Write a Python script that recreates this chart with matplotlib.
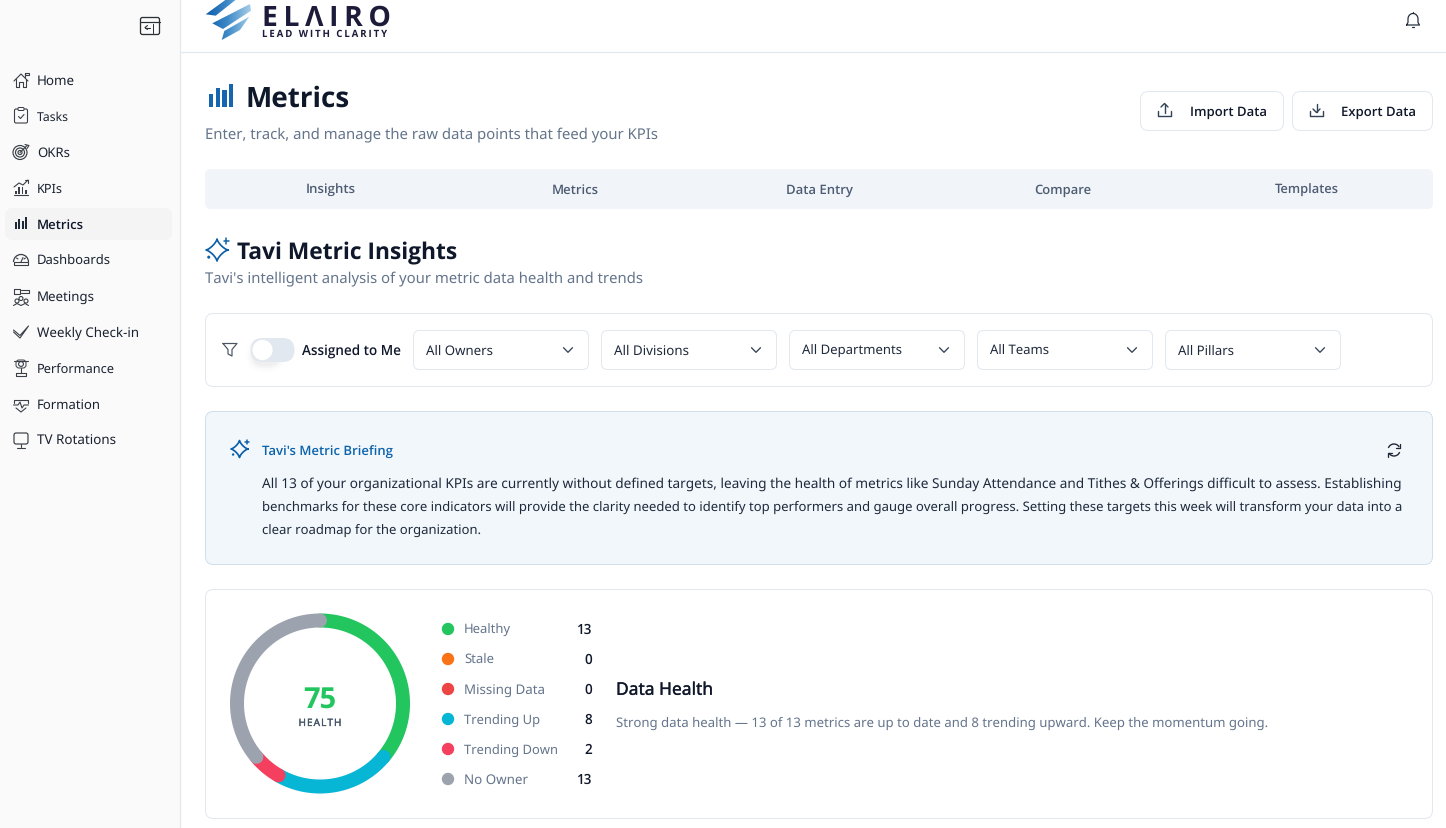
import numpy as np
import matplotlib
matplotlib.use("Agg")
import matplotlib.pyplot as plt
import matplotlib.patheffects as pe
from matplotlib.colors import LinearSegmentedColormap
from matplotlib.patches import FancyBboxPatch, Polygon, Circle, Rectangle, Arc
from matplotlib.lines import Line2D

plt.rcParams['font.family'] = ['Noto Sans', 'DejaVu Sans']
plt.rcParams['text.hinting'] = 'no_hinting'

# ---------- data ----------
legend_labels = ["Healthy", "Stale", "Missing Data", "Trending Up", "Trending Down", "No Owner"]
legend_counts = [13, 0, 0, 8, 2, 13]
legend_colors = ["#22c55e", "#f97316", "#ef4444", "#06b6d4", "#f43f5e", "#9ca3af"]
health_score = 75

nav_items = ["Home", "Tasks", "OKRs", "KPIs", "Metrics", "Dashboards", "Meetings",
             "Weekly Check-in", "Performance", "Formation", "TV Rotations"]
tabs = ["Insights", "Metrics", "Data Entry", "Compare", "Templates"]
filters = ["All Owners", "All Divisions", "All Departments", "All Teams", "All Pillars"]
briefing = [
    "All 13 of your organizational KPIs are currently without defined targets, leaving the health of metrics like Sunday Attendance and Tithes & Offerings difficult to assess. Establishing",
    "benchmarks for these core indicators will provide the clarity needed to identify top performers and gauge overall progress. Setting these targets this week will transform your data into a",
    "clear roadmap for the organization.",
]

# ---------- layout (text widths in pixels) ----------
nav_w = [38, 32, 33, 26, 47, 74, 58, 102, 78, 64, 79]
tab_w = [50, 47, 67, 57, 64]
filter_w = [67, 75, 100, 59, 56]
legend_w = [47, 30, 81, 76, 94, 64]
brief_w = [1139, 1139, 219]

DARK = "#0f172a"
MUTED = "#64748b"
BORDER = "#e2e8f0"
BLUE = "#0b5fa8"
ICON = "#3a3f47"

W, H = 1446, 829
fig = plt.figure(figsize=(W / 100, H / 100), dpi=100, facecolor="white")
ax = fig.add_axes([0, 0, 1, 1])
ax.set_xlim(0, W)
ax.set_ylim(H - 2, -2)
ax.axis("off")
rend = fig.canvas.get_renderer()
REG = ['Noto Sans', 'DejaVu Sans']
OPEN = ['Open Sans', 'DejaVu Sans']


def T(x, y, s, px=14, weight="normal", color=DARK, ha="left", fit=None):
    fam = REG if weight in ("normal", "medium") else OPEN
    t = ax.text(x, y - 1.6, s, fontsize=px * 0.72, family=fam,
                fontweight="normal" if weight == "medium" else weight,
                color=color, ha=ha, va="baseline", zorder=6)
    if weight == "medium":
        t.set_path_effects([pe.withStroke(linewidth=0.2, foreground=color)])
    if fit:
        for _ in range(3):
            wid = t.get_window_extent(rend).width
            t.set_fontsize(t.get_fontsize() * fit / wid)
    return t


def box(x, y, w, h, r=8, fc="white", ec=BORDER, lw=1.0, z=1):
    p = FancyBboxPatch((x, y), w, h, boxstyle=f"round,pad=0,rounding_size={r}",
                       fc=fc, ec=ec, lw=lw * 0.72 if ec != "none" else 0, zorder=z)
    ax.add_patch(p)
    return p


def L(xs, ys, color=ICON, lw=1.1, z=5):
    ax.add_line(Line2D(xs, ys, color=color, lw=lw * 0.72, zorder=z,
                       solid_capstyle="round", solid_joinstyle="round"))


def chevron(cx, cy):
    L([cx - 4.5, cx, cx + 4.5], [cy - 2.3, cy + 2.3, cy - 2.3], color="#334155", lw=1.3)


def sparkle(cx, cy, s, color):
    a = np.linspace(0, 2 * np.pi, 200)
    xs = cx + s * np.sign(np.cos(a)) * np.abs(np.cos(a)) ** 2.7
    ys = cy - s * np.sign(np.sin(a)) * np.abs(np.sin(a)) ** 2.7
    L(xs, ys, color=color, lw=1.7)
    L([cx + s * 0.85, cx + s * 0.85], [cy - s * 1.05, cy - s * 0.55], color=color, lw=1.5)
    L([cx + s * 0.6, cx + s * 1.1], [cy - s * 0.8, cy - s * 0.8], color=color, lw=1.5)
    ax.add_patch(Circle((cx - s * 0.75, cy + s * 0.65), s * 0.14, fc=color, ec="none", zorder=5))


def bars(x, base, heights, w, gap, color):
    for i, h_ in enumerate(heights):
        ax.add_patch(Rectangle((x + i * (w + gap), base - h_), w, h_, fc=color, ec="none", zorder=5))


# ---------- sidebar ----------
ax.add_patch(Rectangle((0, -2), 180, H + 2, fc="#fafafa", ec="none", zorder=0))
L([180, 180], [-2, H], color=BORDER, lw=1.2, z=1)
box(5, 207, 167, 32, r=8, fc="#f4f4f5", ec="none")
# collapse button
box(140.5, 16.5, 19, 17, r=2, fc="none", ec="#2b2f36", lw=1.3, z=5)
L([140.5, 159.5], [21, 21], color="#2b2f36", lw=1.2)
L([153, 153], [23, 32], color="#2b2f36", lw=1.0)
L([145, 150], [26.5, 26.5], color="#2b2f36", lw=1.1)
L([147.5, 145, 147.5], [24.5, 26.5, 28.5], color="#2b2f36", lw=1.1)

for i, (name, wd) in enumerate(zip(nav_items, nav_w)):
    cy = 79 + 36 * i
    sel = name == "Metrics"
    T(37, cy + 5.3, name, 14, "semibold" if sel else "normal", DARK if sel else "#1a2230", fit=wd)

# nav icons
L([14, 21, 28], [80, 73, 80]); L([16, 16, 19, 19, 23, 23, 26, 26], [78, 86, 86, 81, 81, 86, 86, 78])
L([25, 25], [76, 71.5]); ax.add_patch(Rectangle((25, 71.5), 3.5, 2.5, fc="none", ec=ICON, lw=0.8, zorder=5))
box(14.5, 108, 13, 14, r=1.5, fc="none", ec=ICON, lw=1.1, z=5)
box(18, 106.5, 6, 3, r=1, fc="#fafafa", ec=ICON, lw=1.0, z=6)
L([18.5, 20.5, 24], [115.5, 117.5, 113.5])
for r_ in (7, 4.5, 2):
    ax.add_patch(Circle((20, 151.5), r_, fc="none", ec=ICON, lw=0.85, zorder=5))
L([20, 27], [151.5, 144.5]); L([25, 29, 27], [143.5, 144.5, 147.5])
bars(15, 193, [3, 7, 7, 4], 1.5, 1.9, ICON)
L([14, 28], [193.5, 193.5])
L([14, 19, 23, 28], [186, 182, 184, 179]); L([25, 28, 28], [179, 179, 182])
bars(15, 228, [7, 10, 8, 12], 2, 1.3, "#1f2937")
ax.add_patch(Arc((21, 261), 15, 15, theta1=180, theta2=360, ec=ICON, lw=0.9, zorder=5))
L([14, 28, 28, 14, 14], [261, 261, 264, 264, 261])
L([21, 23], [261, 256.5]); L([16.5, 18], [257, 258]); L([25.5, 24], [257, 258])
L([14, 14, 20, 20, 14], [293, 288, 288, 293, 293])
L([21, 29, 29, 21], [289, 289, 292, 292])
for cx_, cy_ in ((17, 300), (21, 297.5), (26, 300)):
    ax.add_patch(Circle((cx_, cy_), 2, fc="none", ec=ICON, lw=0.8, zorder=5))
L([13.5, 17, 21, 25, 28.5], [304.5, 302.5, 304.5, 302.5, 304.5])
L([13.5, 20, 28.5, 20, 13.5], [331, 337, 325, 334.5, 329], lw=1.1)
box(16, 359, 10, 8, r=3, fc="none", ec=ICON, lw=1.0, z=5)
ax.add_patch(Circle((21, 363), 2.4, fc="none", ec=ICON, lw=0.8, zorder=5))
L([14, 28], [360, 360]); L([21, 21], [367, 372]); L([16, 26, 26, 16, 16], [372, 372, 375, 375, 372])
L([14, 14, 28, 28], [402, 399, 399, 402]); L([13.5, 18, 20, 22, 24, 28.5], [404, 404, 401, 407, 404, 404])
L([16, 21, 26], [407, 411, 407])
box(14, 432, 14, 11, r=2, fc="none", ec=ICON, lw=1.2, z=5)
L([21, 21], [443, 446]); L([17, 25], [446.5, 446.5])

# ---------- header ----------
L([180.5, W], [51, 51], color=BORDER, lw=1.2, z=1)
logo_polys = [
    [(205.7, 13.3), (226.7, -2), (236.7, -2), (215.7, 14.7)],
    [(212.3, 22.3), (250, 3), (251, 9.7), (223, 28)],
    [(221.7, 39), (224.3, 30), (249.3, 15.7), (240, 29)],
]
grad = np.linspace(0, 1, 64).reshape(1, -1)
cmap = LinearSegmentedColormap.from_list("logo", ["#0a5aa8", "#3f8bc8", "#a6cde8"])
for pts in logo_polys:
    pg = Polygon(pts, closed=True, fc="none", ec="none", transform=ax.transData)
    ax.add_patch(pg)
    im = ax.imshow(grad, extent=(205, 251, 41, -2), cmap=cmap, aspect="auto", zorder=4)
    im.set_clip_path(pg)
ax.set_xlim(0, W)
ax.set_ylim(H - 2, -2)
T(262, 25.5, "\u200a\u200a".join("ELΛIRO"), 30, "bold", "#1c1b3a", fit=129)
T(262, 37, "\u2009".join("LEAD WITH CLARITY"), 8.5, "bold", "#1c1b3a", fit=125)

a = np.linspace(np.pi, 0, 40)
bx = list(1413 + 5 * np.cos(a)); by = list(18 - 5.5 * np.sin(a))
L([1406.5, 1408] + bx + [1418, 1419.5, 1406.5], [24, 21.5] + by + [21.5, 24, 24], color="#1f2937", lw=1.2)
L([1411.7, 1414.3], [26.3, 26.3], color="#1f2937", lw=1.2)
L([1413, 1413], [11.3, 12.3], color="#1f2937", lw=1.2)

# ---------- page title ----------
bars(209, 106, [13, 19, 17, 23], 4.3, 2.3, "#1565b0")
T(246, 106.3, "Metrics", 30, "bold", DARK, fit=104)
T(205, 138, "Enter, track, and manage the raw data points that feed your KPIs", 15, "normal", MUTED, fit=453)

for x_, w_, lab, tx, kind, tw in ((1140.5, 143, "Import Data", 1189.5, "up", 77),
                                   (1292.5, 140, "Export Data", 1341, "down", 75)):
    box(x_, 90.5, w_, 39, r=8, ec=BORDER)
    T(tx, 115.3, lab, 14, "semibold", DARK, fit=tw)
    ix = x_ + 24
    L([ix - 6.5, ix - 6.5, ix + 6.5, ix + 6.5], [110, 115, 115, 110], color="#334155", lw=1.4)
    if kind == "up":
        L([ix, ix], [103, 111.5], color="#334155", lw=1.4)
        L([ix - 3.5, ix, ix + 3.5], [106, 102.5, 106], color="#334155", lw=1.4)
    else:
        L([ix, ix], [102.5, 111], color="#334155", lw=1.4)
        L([ix - 3.5, ix, ix + 3.5], [108, 111.5, 108], color="#334155", lw=1.4)

# ---------- tabs ----------
box(205, 168, 1228, 40, r=6, fc="#f1f5f9", ec="none")
for i, (t_, wd) in enumerate(zip(tabs, tab_w)):
    T(331 + 244 * i, 193.8, t_, 14, "semibold", "#4e5c73", ha="center", fit=wd)

# ---------- section heading ----------
sparkle(217, 249, 11, BLUE)
T(237, 259, "Tavi Metric Insights", 24, "bold", DARK, fit=220)
T(205, 282, "Tavi's intelligent analysis of your metric data health and trends", 15, "normal", MUTED, fit=438)

# ---------- filters ----------
box(205.5, 312.5, 1227, 73, r=8, ec=BORDER)
L([223, 237, 232, 232, 228, 228, 223], [342.5, 342.5, 348.5, 355, 353, 348.5, 342.5], color="#4b5563", lw=1.2)
for off, al in ((8, .012), (6, .02), (4, .03), (2, .04)):
    box(254 - off, 345 - off, 24 + off * 2, 18 + off * 2, r=10 + off, fc="#64748b", ec="none", z=1).set_alpha(al)
box(250.5, 337, 44, 24, r=12, fc="#e2e8f0", ec="none", z=2)
ax.add_patch(Circle((262.5, 349), 10.5, fc="white", ec="#e5e7eb", lw=0.5, zorder=3))
T(302, 355.6, "Assigned to Me", 14, "semibold", DARK, fit=99)
for i, (f_, wd) in enumerate(zip(filters, filter_w)):
    x_ = 413.5 + 188 * i
    box(x_, 329.5, 175, 39, r=6, ec=BORDER)
    T(x_ + 12.5, 354.5, f_, 14, "normal", "#1e293b", fit=wd)
    chevron(x_ + 154.5, 349)

# ---------- briefing ----------
box(205.5, 410.5, 1227, 153, r=8, fc="#f2f7fb", ec="#cfe0ee")
sparkle(239.5, 448, 8.5, BLUE)
T(262, 455.6, "Tavi's Metric Briefing", 14, "semibold", "#0b63ad", fit=132)
for i, (line, wd) in enumerate(zip(briefing, brief_w)):
    T(262, 487.3 + 23 * i, line, 14, "normal", "#1e293b", fit=wd)
ax.add_patch(Arc((1394, 449), 12, 12, theta1=200, theta2=330, ec="#1f2937", lw=1.0, zorder=5))
ax.add_patch(Arc((1394, 449), 12, 12, theta1=20, theta2=150, ec="#1f2937", lw=1.0, zorder=5))
L([1400, 1400, 1396], [442.5, 446.5, 446.5], color="#1f2937", lw=1.3)
L([1388, 1388, 1392], [455.5, 451.5, 451.5], color="#1f2937", lw=1.3)

# ---------- health card ----------
box(205.5, 588.5, 1227, 229, r=8, ec=BORDER)

pax = fig.add_axes([220 / W, (H - 804.5) / H, 200 / W, 200 / H], projection="polar", facecolor="none")
pax.set_theta_zero_location("N")
pax.set_theta_direction(-1)
pax.set_ylim(0, 100)
pax.axis("off")
arc_values = [legend_counts[i] for i in (0, 3, 4, 5)]
arc_colors = [legend_colors[i] for i in (0, 3, 4, 5)]
total = sum(arc_values)
start = 0.0
for v, c in zip(arc_values, arc_colors):
    end = start + v / total * 2 * np.pi
    th = np.linspace(start, end, 120)
    pax.plot(th, np.full_like(th, 83.0), color=c, lw=14 * 0.72, solid_capstyle="round")
    start = end

T(320, 707.3, str(health_score), 29, "bold", "#22c55e", ha="center", fit=33)
T(298.5, 726.6, "\u200a".join("HEALTH"), 10.5, "medium", "#475569", fit=43)

for i, (lab, cnt, col, wd) in enumerate(zip(legend_labels, legend_counts, legend_colors, legend_w)):
    cy = 628 + 30 * i
    ax.add_patch(Circle((448, cy), 6.2, fc=col, ec="none", zorder=5))
    T(464, cy + 5.8, lab, 14, "normal", MUTED, fit=wd)
    T(592, cy + 5.3, str(cnt), 13.5, "semibold", DARK, ha="right")

T(616, 695.4, "Data Health", 18, "medium", DARK, fit=97)
T(616, 726.3, "Strong data health — 13 of 13 metrics are up to date and 8 trending upward. Keep the momentum going.",
  14, "normal", MUTED, fit=652)

fig.savefig("out.png", dpi=100, facecolor="white")
